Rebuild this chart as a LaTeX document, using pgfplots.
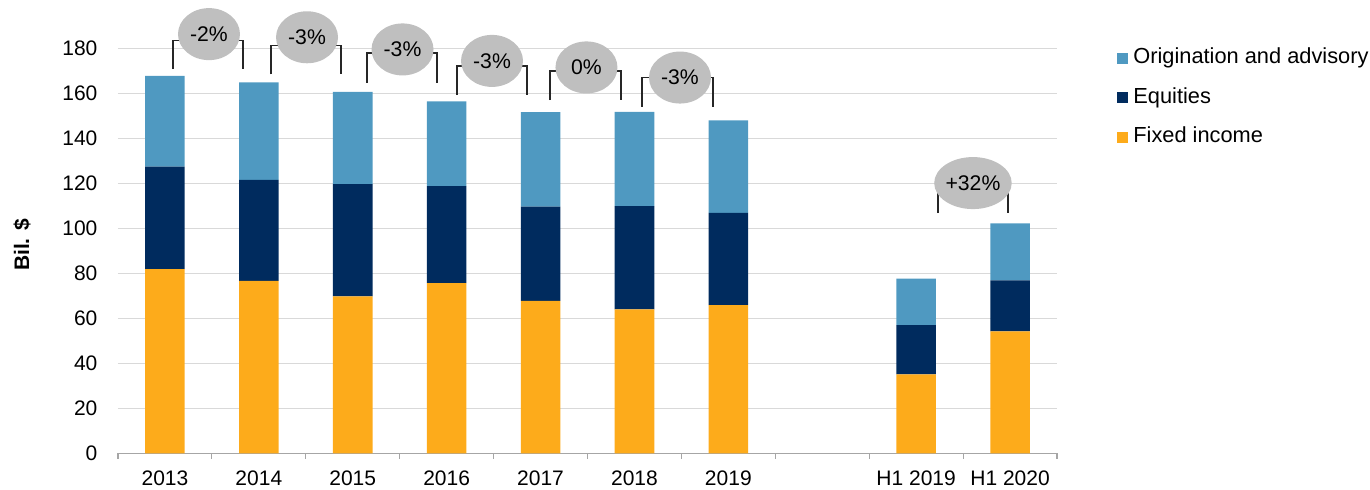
\documentclass[border=0pt]{standalone}
\usepackage{fontspec}
\setmainfont{Liberation Sans}
\usepackage{pgfplots}
\usepackage{pgfplotstable}
\usetikzlibrary{shapes.geometric}
\pgfplotsset{compat=1.18}
\definecolor{origc}{HTML}{4F99C1}
\definecolor{eqc}{HTML}{002B5E}
\definecolor{fic}{HTML}{FDAB1B}
\definecolor{ellc}{HTML}{BFBFBF}
\definecolor{gridc}{HTML}{D9D9D9}
\definecolor{axc}{HTML}{A6A6A6}
\pgfplotstableread{
x fi eq orig
0 81.9 45.5 40.3
1 76.6 44.9 43.4
2 69.8 49.8 41.0
3 75.6 43.2 37.6
4 67.8 41.8 42.0
5 64.0 45.9 41.9
6 65.9 41.0 41.1
8 35.1 21.9 20.6
9 54.2 22.7 25.3
}\data
\begin{document}
\begin{tikzpicture}[font=\fontsize{10.5}{12.6}\selectfont,
  pct/.style={ellipse, fill=ellc, minimum width=31pt, minimum height=26pt, inner sep=0pt, font=\fontsize{10.6}{12.7}\selectfont},
  brk/.style={black!85, line width=0.7pt}]
\begin{axis}[name=ax, scale only axis, width=469.5pt, height=202.5pt,
  xmin=-0.5, xmax=9.5, ymin=0, ymax=180,
  ybar stacked, bar width=19.8pt, clip=false,
  xtick={0,...,9},
  xticklabels={2013,2014,2015,2016,2017,2018,2019,{},H1 2019,H1 2020},
  xticklabel style={yshift=-1pt},
  minor xtick={-0.5,0.5,...,9.5},
  major x tick style={draw=none},
  minor x tick style={draw=axc, line width=0.6pt},
  tick align=outside, minor tick length=2.8pt,
  ytick={0,20,...,180},
  ytick style={draw=none},
  yticklabel style={xshift=-2.5pt},
  /pgf/number format/assume math mode=true,
  ymajorgrids, grid style={gridc, line width=0.6pt},
  axis x line*=bottom, axis y line*=left,
  x axis line style={-, draw=axc, line width=0.6pt},
  y axis line style={draw=none},
  ylabel={\textbf{Bil. \$}},
  ylabel style={at={(axis description cs:0,0.5)}, anchor=center, xshift=3pt, yshift=48pt},
  reverse legend,
  legend cell align=left,
  legend image code/.code={\fill[#1] (0pt,-2.75pt) rectangle (5.5pt,2.75pt);},
  legend style={draw=none, fill=none, at={(1,1)}, anchor=north west,
    xshift=30pt, yshift=0.5pt, inner sep=0pt, row sep=9.25pt, column sep=2.5pt,
    font=\fontsize{10.9}{13}\selectfont,
    nodes={inner sep=0pt, text height=8pt, text depth=2.5pt}},
]
\addplot[fill=fic, draw=none] table[x=x, y=fi] {\data};
\addplot[fill=eqc, draw=none] table[x=x, y=eq] {\data};
\addplot[fill=origc, draw=none] table[x=x, y=orig] {\data};
\legend{Fixed income, Equities, Origination and advisory}
% brackets
\draw[brk] (axis cs:0.086,170.7) |- (axis cs:0.831,183.6) -- (axis cs:0.831,170.7);
\draw[brk] (axis cs:1.129,168.4) |- (axis cs:1.875,181.3) -- (axis cs:1.875,168.4);
\draw[brk] (axis cs:2.152,164.6) |- (axis cs:2.897,177.9) -- (axis cs:2.897,164.6);
\draw[brk] (axis cs:3.110,159.2) |- (axis cs:3.856,172.1) -- (axis cs:3.856,159.2);
\draw[brk] (axis cs:4.101,157.0) |- (axis cs:4.857,169.9) -- (axis cs:4.857,157.0);
\draw[brk] (axis cs:5.080,154.1) |- (axis cs:5.836,167.0) -- (axis cs:5.836,154.1);
\draw[brk] (axis cs:8.233,106.8) |- (axis cs:8.978,120.1) -- (axis cs:8.978,106.8);
% ellipse anchors
\coordinate (e1) at (axis cs:0.469,186.3);
\coordinate (e2) at (axis cs:1.513,184.9);
\coordinate (e3) at (axis cs:2.530,179.5);
\coordinate (e4) at (axis cs:3.483,174.4);
\coordinate (e5) at (axis cs:4.489,171.5);
\coordinate (e6) at (axis cs:5.485,167.0);
\coordinate (e7) at (axis cs:8.605,120.1);
\end{axis}
\node[pct] at (e1) {-2\%};
\node[pct] at (e2) {-3\%};
\node[pct] at (e3) {-3\%};
\node[pct] at (e4) {-3\%};
\node[pct] at (e5) {0\%};
\node[pct] at (e6) {-3\%};
\node[pct] at (e7) {+32\%};
\pgfresetboundingbox
\path ([xshift=-59pt,yshift=-17.85pt]ax.south west) rectangle ([xshift=156.5pt,yshift=24.15pt]ax.north east);
\end{tikzpicture}
\end{document}
